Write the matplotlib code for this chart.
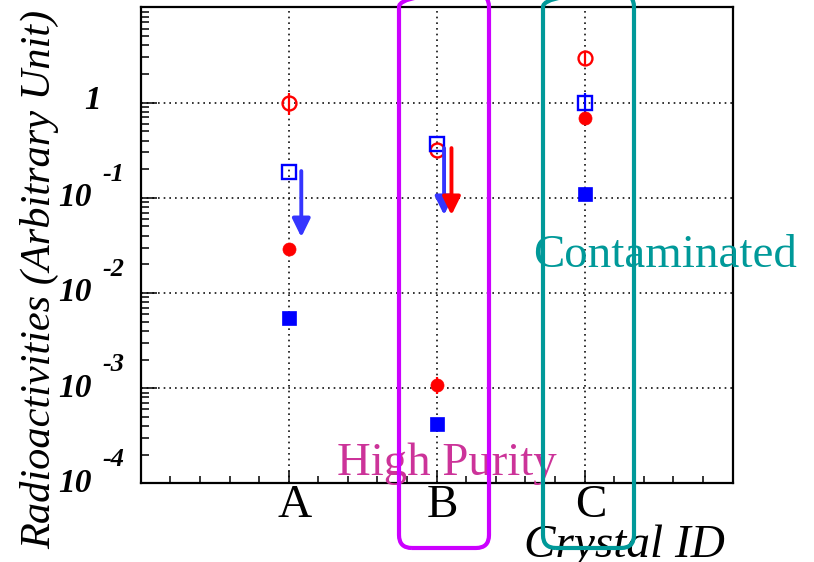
import matplotlib

matplotlib.use("Agg")
import matplotlib.pyplot as plt
from matplotlib.patches import FancyBboxPatch
from matplotlib.ticker import LogLocator, MultipleLocator, NullFormatter
from matplotlib.transforms import IdentityTransform, ScaledTranslation

# crystals on the x axis (bin centres 1, 2, 3)
crystals = ["A", "B", "C"]
crystal_x = [1, 2, 3]

# measured radioactivities, four series
red_open = [1.0, 0.32, 2.96]
red_open_err = [0.25, 0.0, 0.45]
blue_open = [0.188, 0.365, 1.0]
blue_open_err = [0.0, 0.0, 0.25]
red_filled = [0.029, 0.00109, 0.687]
red_filled_err = [0.0, 0.00023, 0.0]
blue_filled = [0.00547, 0.000422, 0.11]
blue_filled_err = [0.0, 0.0, 0.0]

# upper limits drawn as arrows (from -> to)
blue_limit_crystals = ["A", "B"]
blue_limit_from = [0.191, 0.333]
blue_limit_to = [0.0386, 0.0658]
red_limit_crystals = ["B"]
red_limit_from = [0.333]
red_limit_to = [0.0658]

decades = [-4, -3, -2, -1, 0]

SERIF = "Liberation Serif"

fig = plt.figure(figsize=(8.14, 5.62), dpi=100)
ax = fig.add_axes([0.1729, 0.140, 0.7271, 0.8467])
ax.set_yscale("log")
ax.set_xlim(0, 4)
ax.set_ylim(1e-4, 10)

# grid and frame, ROOT style
ax.set_axisbelow(True)
ax.grid(True, which="major", color="#111111", lw=1.2, ls=(0, (1, 2.4)))
for s in ax.spines.values():
    s.set_linewidth(1.6)
    s.set_color("black")

ax.xaxis.set_major_locator(MultipleLocator(1))
ax.xaxis.set_minor_locator(MultipleLocator(0.2))
ax.yaxis.set_major_locator(LogLocator(base=10, numticks=20))
ax.yaxis.set_minor_locator(LogLocator(base=10, subs=range(2, 10), numticks=20))
ax.yaxis.set_major_formatter(NullFormatter())
ax.yaxis.set_minor_formatter(NullFormatter())
ax.tick_params(axis="y", which="major", direction="in", length=11.5, width=1.1,
               right=False, left=True)
ax.tick_params(axis="y", which="minor", direction="in", length=5.8, width=1.1,
               right=False, left=True)
ax.tick_params(axis="x", which="major", direction="in", length=8.6, width=1.1,
               top=False, pad=1)
ax.tick_params(axis="x", which="minor", direction="in", length=4.7, width=1.1,
               top=False)

ax.set_xticks([0] + crystal_x + [4], [""] + crystals + [""])
for lab in ax.get_xticklabels():
    lab.set_fontfamily(SERIF)
    lab.set_fontsize(34)
    lab.set_transform(lab.get_transform()
                      + ScaledTranslation(0.06, 0, fig.dpi_scale_trans))

# y tick labels: bold italic "10" with raised exponent
ytrans = ax.get_yaxis_transform()
tick_font = dict(family=SERIF, weight="bold", style="italic", color="black")
for d in decades:
    if d == 0:
        ax.text(0, 10.0 ** d, "1", ha="right", va="center", fontsize=24,
                transform=ytrans + ScaledTranslation(-0.40, 0.02, fig.dpi_scale_trans),
                **tick_font)
    else:
        ax.text(0, 10.0 ** d, "10", ha="right", va="center", fontsize=24,
                transform=ytrans + ScaledTranslation(-0.487, 0.0, fig.dpi_scale_trans),
                **tick_font)
        ax.text(0, 10.0 ** d, f"-{-d}", ha="left", va="center", fontsize=19,
                transform=ytrans + ScaledTranslation(-0.38, 0.235, fig.dpi_scale_trans),
                **tick_font)

# data points
ax.errorbar(crystal_x, red_open, yerr=red_open_err, fmt="o", ms=10, mfc="none",
            mec="red", mew=1.7, ecolor="red", elinewidth=1.6, capsize=0, zorder=4)
ax.errorbar(crystal_x, blue_open, yerr=blue_open_err, fmt="s", ms=10, mfc="none",
            mec="blue", mew=1.7, ecolor="blue", elinewidth=1.6, capsize=0, zorder=4)
ax.errorbar(crystal_x, red_filled, yerr=red_filled_err, fmt="o", ms=9.4, mfc="red",
            mec="red", mew=0.5, ecolor="red", elinewidth=1.6, capsize=0, zorder=4)
ax.errorbar(crystal_x, blue_filled, yerr=blue_filled_err, fmt="s", ms=9.4, mfc="blue",
            mec="blue", mew=0.5, ecolor="blue", elinewidth=1.6, capsize=0, zorder=4)

# upper-limit arrows
xpos = dict(zip(crystals, crystal_x))
blue_dx = {"A": 0.085, "B": 0.05}
red_dx = {"B": 0.10}
arrow_style = "-|>,head_length=0.55,head_width=0.27"
for c, y0, y1 in zip(blue_limit_crystals, blue_limit_from, blue_limit_to):
    x = xpos[c] + blue_dx[c]
    ax.annotate("", xy=(x, y1), xytext=(x, y0), zorder=5,
                arrowprops=dict(arrowstyle=arrow_style, color="#3535ff", lw=2.8,
                                mutation_scale=20, shrinkA=0, shrinkB=0))
for c, y0, y1 in zip(red_limit_crystals, red_limit_from, red_limit_to):
    x = xpos[c] + red_dx[c]
    ax.annotate("", xy=(x, y1), xytext=(x, y0), zorder=5,
                arrowprops=dict(arrowstyle=arrow_style, color="red", lw=2.8,
                                mutation_scale=20, shrinkA=0, shrinkB=0))

# titles and annotations (positions in figure pixels, image origin top-left)
W, H = 814, 562
fig.text(40 / W, 1 - 279 / H, "Radioactivities (Arbitrary Unit)", rotation=90,
         ha="center", va="center", family=SERIF, style="italic", fontsize=30.5)
fig.text(725 / W, 1 - 557 / H, "Crystal ID", ha="right", va="baseline",
         family=SERIF, style="italic", fontsize=34)
fig.text(447 / W, 1 - 475 / H, "High Purity", ha="center", va="baseline",
         family=SERIF, fontsize=33.7, color="#cc3399")
fig.text(665.5 / W, 1 - 267 / H, "Contaminated", ha="center", va="baseline",
         family=SERIF, fontsize=33.8, color="#009999")

# rounded boxes around the groups
for x0, x1, col in [(399, 489, "#cc00ff"), (543, 634, "#009999")]:
    box = FancyBboxPatch((x0, H - 548), x1 - x0, 548 + 6,
                         boxstyle="round,pad=0,rounding_size=13",
                         transform=IdentityTransform(), fill=False,
                         ec=col, lw=3.0, zorder=10)
    fig.add_artist(box)

fig.savefig("out.png", dpi=100)
